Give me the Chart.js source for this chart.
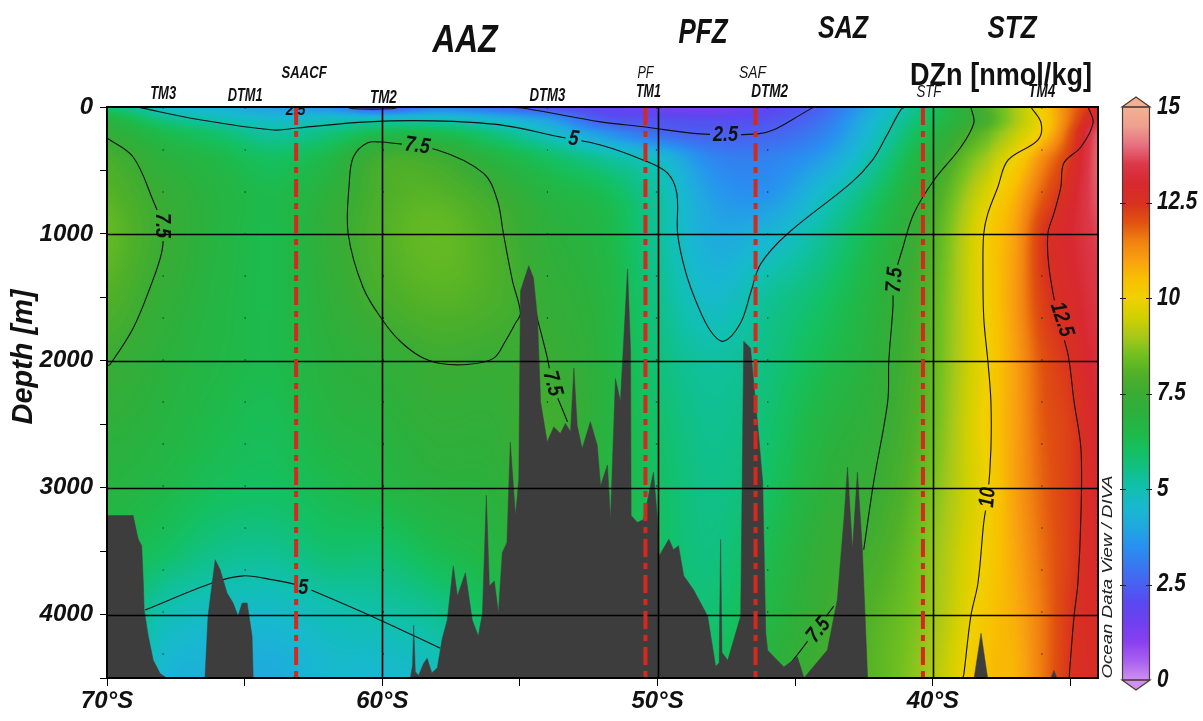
<!DOCTYPE html>
<html>
<head>
<meta charset="utf-8">
<title>DZn section</title>
<script src="https://cdn.jsdelivr.net/npm/chart.js@4.4.1/dist/chart.umd.min.js"></script>
<style>
html,body{margin:0;padding:0;background:#fff;overflow:hidden;}
canvas{display:block;}
</style>
</head>
<body>
<canvas id="c" width="1203" height="721" style="width:1203px;height:721px"></canvas>
<script>
// ================= DATA =================
// Gridded DZn field (nmol/kg): columns = latitude (°S), rows = depth (m)
const gridLats   = [70, 68, 66, 64, 62, 60, 58, 56, 54, 52, 50, 48, 46, 44, 42, 40, 38, 37, 36, 35, 34];
const gridDepths = [0, 100, 200, 400, 700, 1000, 1500, 2000, 2500, 3000, 3500, 4000, 4500];
const dzn0    = [5.8,4.7,4.3,3.8,3.5,2.3,3.2,2.8,2.2,1.9,1.5,1.3,1.9,2.6,4.3,6.0,7.9,9.0,10.2,11.6,12.6];
const dzn100  = [6.8,5.6,5.0,4.6,4.8,4.9,4.9,4.5,3.8,2.4,2.2,2.1,2.2,2.9,4.6,6.2,7.8,9.0,10.1,11.7,13.2];
const dzn200  = [7.2,6.4,5.8,5.2,5.6,6.3,6.3,5.6,4.7,3.6,2.7,2.45,2.55,3.2,4.8,6.6,8.3,9.3,10.3,12.0,13.8];
const dzn400  = [7.8,7.0,6.5,6.0,6.5,7.7,7.6,6.8,6.0,5.3,4.6,3.3,3.2,3.8,5.3,7.2,9.0,10.0,11.3,12.4,13.9];
const dzn700  = [8.1,7.4,6.8,6.4,7.0,7.9,8.1,7.6,6.8,6.3,5.2,3.8,3.6,4.7,6.0,7.7,9.7,10.7,11.9,12.8,13.8];
const dzn1000 = [8.3,7.5,6.8,6.4,7.2,8.0,8.3,7.9,7.1,6.6,5.3,4.1,4.4,5.3,6.5,8.0,10.05,11.0,12.4,13.0,13.6];
const dzn1500 = [8.0,7.3,6.7,6.4,7.1,7.8,8.1,7.9,7.3,6.8,5.5,4.6,5.3,5.9,6.9,8.2,10.05,11.1,12.3,12.8,13.4];
const dzn2000 = [7.5,7.0,6.6,6.4,6.9,7.2,7.55,7.45,7.5,6.9,5.7,5.2,5.6,6.3,7.1,8.3,10.0,11.0,12.0,12.5,13.2];
const dzn2500 = [7.1,6.8,6.4,6.2,6.7,6.9,7.2,7.2,7.7,6.9,5.9,5.4,5.8,6.7,7.3,8.4,10.1,11.0,11.9,12.3,13.0];
const dzn3000 = [6.8,6.5,6.1,6.0,6.3,6.6,6.9,7.0,7.6,6.8,6.0,5.5,6.0,7.0,7.5,8.6,10.0,11.0,11.8,12.3,12.9];
const dzn3500 = [6.5,6.0,5.5,5.4,5.8,5.8,6.3,6.7,7.4,6.6,6.0,5.6,6.3,7.3,7.8,8.8,10.1,10.9,11.7,12.3,12.9];
const dzn4000 = [6.2,5.0,4.7,4.6,4.9,5.1,5.4,6.2,7.2,6.4,6.0,5.8,6.6,7.5,8.1,8.9,10.3,10.8,11.6,12.4,12.8];
const dzn4500 = [6.0,4.5,4.2,4.1,4.5,4.5,4.8,5.8,7.0,6.2,6.0,6.0,6.9,7.7,8.2,9.1,10.5,10.7,11.6,12.45,12.7];
const dznRows = [dzn0,dzn100,dzn200,dzn400,dzn700,dzn1000,dzn1500,dzn2000,dzn2500,dzn3000,dzn3500,dzn4000,dzn4500];

// Seafloor profile [lat °S, depth m]
const seafloor = [
 [70,3220],[69.05,3220],[68.92,3354],[68.86,3409],[68.74,3457],[68.68,3750],[68.65,3965],[68.5,4170],[68.32,4361],[68.07,4465],[67.83,4500],
 [66.44,4500],[66.33,4012],[66.07,3568],[65.89,3647],[65.64,3830],[65.42,3909],[65.24,4012],[65.09,3909],[64.91,3909],[64.73,4171],[64.69,4500],
 [58.98,4500],[58.9,4400],[58.86,4083],[58.8,4450],[58.68,4480],[58.5,4385],[58.37,4345],[58.2,4460],[58.0,4420],[57.82,4187],[57.64,4044],
 [57.42,3616],[57.27,3854],[56.98,3671],[56.73,4044],[56.51,4171],[56.36,3988],[56.22,3060],[56.11,3774],[55.93,3735],[55.78,3988],[55.64,3512],
 [55.47,3433],[55.35,2640],[55.16,3220],[55.04,2930],[54.98,1450],[54.68,1251],[54.51,1346],[54.36,1664],[54.25,2322],[54.01,2640],[53.77,2521],
 [53.53,2574],[53.35,2494],[53.16,2560],[53.04,2058],[52.92,2508],[52.74,2693],[52.44,2481],[52.19,2668],[52.07,2985],[51.82,2822],[51.71,3251],
 [51.53,2140],[51.35,2322],[51.09,1275],[50.98,1926],[50.96,3220],[50.73,3274],[50.51,3251],[50.15,2878],[50.01,3224],[49.95,3541],[49.59,3407],
 [49.42,3489],[49.24,3457],[49.05,3695],[48.69,3806],[48.18,4012],[47.89,4409],[47.76,4380],[47.71,3409],[47.66,4300],[47.45,4361],[46.98,4012],
 [46.87,1846],[46.62,1902],[46.33,2584],[46.18,2957],[46.07,4147],[46.0,4282],[45.77,4334],[45.41,4413],[44.92,4334],[44.68,4500],[43.83,4280],
 [43.47,3883],[43.22,3221],[43.1,2838],[42.92,3486],[42.74,2878],[42.56,3486],[42.37,4500],[38.5,4500],[38.25,4147],[38.01,4500],[35.71,4500],
 [35.6,4440],[35.49,4500],[34,4500]
];

// Contour lines read from the section [lat °S, depth m]
const contour5Upper = [[68.8,5],[66.62,101],[63.96,181],[63.09,165],[60.55,117],[58.15,109],[55.71,141],[53.53,236],[52.07,299],[50.51,419],[49.64,521],[49.3,680],[49.27,1000],[48.98,1300],[48.55,1560],[48.07,1767],[47.6,1846],[46.98,1700],[46.6,1450],[46.25,1235],[45.27,997],[42.98,600],[42.2,420],[41.7,235],[41.16,21],[41.0,0]];
const contour5Lower = [[68.62,3965],[66.15,3750],[65.05,3695],[63.96,3727],[63.09,3767],[62.5,3815],[60.07,4044],[57.89,4266]];
const contour25Upper = [[55.4,0],[54.73,14],[52.07,117],[50.51,156],[48.44,212],[46.36,212],[45.78,180],[44.8,60],[44.33,0]];
const contour25Surface = [[61.3,0],[61.05,14],[59.65,14],[59.4,0]];
const contour75Left = [[70,244],[69.05,394],[68.33,735],[68.0,934],[68.0,1132],[68.44,1426],[69.05,1743],[69.89,2029],[70,2040]];
const contour75Loop = [[59.96,276],[58.0,339],[56.33,521],[55.82,735],[55.6,997],[55.27,1370],[54.98,1624],[55.16,1703],[55.53,1846],[55.96,1981],[56.91,2029],[57.89,2021],[58.62,1966],[59.35,1846],[59.96,1688],[60.69,1426],[61.24,997],[61.2,601],[61.05,394],[60.55,283],[59.96,276]];
const contour75Mid = [[54.4,1640],[54.0,1981],[53.82,2180],[53.42,2402],[53.27,2481]];
const contour75Right = [[38.62,0],[38.51,125],[38.98,315],[39.96,577],[40.69,839],[41.09,1109],[41.42,1370],[41.45,1585],[41.6,2005],[41.64,2322],[42.15,2957],[42.51,3489]];
const contour75Deep = [[45.3,4420],[44.8,4282],[43.6,3933]];
const contour10 = [[36.44,0],[36.07,125],[36.18,259],[37.27,419],[37.64,632],[38.0,839],[38.15,997],[38.18,1267],[38.15,1664],[38.0,2005],[37.89,2322],[37.89,2695],[38.0,3060],[38.15,3275],[38.36,3751],[38.62,4012],[38.87,4465],[38.91,4500]];
const contour125 = [[34.36,0],[34.18,125],[34.62,315],[35.24,442],[35.35,632],[35.6,839],[35.82,997],[35.78,1267],[35.45,1664],[35.09,1950],[34.87,2322],[34.62,2695],[34.62,3219],[34.73,3751],[34.87,4012],[35.05,4500]];
const contourSets = [contour5Upper,contour5Lower,contour25Upper,contour25Surface,contour75Left,contour75Loop,contour75Mid,contour75Right,contour75Deep,contour10,contour125];

// Contour labels (text, lat, depth)
const contourLabelText  = ['5','5','2.5','2.5','7.5','7.5','7.5','7.5','7.5','10','12.5'];
const contourLabelLat   = [53.05,62.87,47.53,63.15,68.0,58.73,53.82,41.38,44.15,38.0,35.32];
const contourLabelDepth = [252,3790,220,28,934,307,2180,1364,4123,3078,1675];

// Stations, fronts, zones
const stationNames = ['TM3','DTM1','TM2','DTM3','TM1','DTM2','TM4'];
const stationLats  = [67.96,64.98,59.96,54.0,50.04,46.0,36.04];
const frontNames = ['SAACF','PF','SAF','STF'];
const frontLats  = [63.13,50.44,46.44,40.36];
const zoneNames = ['AAZ','PFZ','SAZ','STZ'];

// Axis ticks
const xTickValues = [70,65,60,55,50,45,40,35];
const yTickValues = [0,500,1000,1500,2000,2500,3000,3500,4000,4500];
const colorbarTicks = [0,2.5,5,7.5,10,12.5,15];

// ================= STYLE HELPERS =================
const FONT = "'Liberation Sans Narrow','Liberation Sans',Arial,sans-serif";
const SY = 1.15;
const cmapStops = [
 [0,'#d090f0'],[0.5,'#a860f0'],[1,'#8840f0'],[1.5,'#7040f0'],[2,'#5a48f0'],[2.5,'#4a60f0'],
 [3,'#3878f0'],[3.5,'#2890f0'],[4,'#20a8e0'],[4.5,'#18b8d0'],[5,'#10c0b0'],[5.5,'#10c088'],
 [6,'#14c060'],[6.5,'#20b848'],[7,'#2cb03c'],[7.5,'#3aac34'],[8,'#50b028'],[8.5,'#70c020'],
 [9,'#a8c818'],[9.5,'#d0d000'],[10,'#f0d000'],[10.5,'#f8c000'],[11,'#f8a010'],[11.5,'#f08010'],
 [12,'#e05010'],[12.5,'#d83020'],[13,'#d82830'],[13.5,'#dc3848'],[14,'#e67080'],[14.5,'#eea090'],[15,'#f4b090']
];
function hexRgb(h){return [parseInt(h.slice(1,3),16),parseInt(h.slice(3,5),16),parseInt(h.slice(5,7),16)];}
const LUT = [];
(function(){
  const st = cmapStops.map(s=>[s[0],hexRgb(s[1])]);
  for (let i=0;i<=1500;i++){
    const v=i/100; let k=0;
    while (k<st.length-2 && v>st[k+1][0]) k++;
    const a=st[k], b=st[k+1]; const t=Math.max(0,Math.min(1,(v-a[0])/(b[0]-a[0])));
    LUT.push([0,1,2].map(c=>Math.round(a[1][c]+(b[1][c]-a[1][c])*t)));
  }
})();
function rgbOf(v){const i=Math.max(0,Math.min(1500,Math.round(v*100)));return LUT[i];}
function cssOf(v){const c=rgbOf(v);return `rgb(${c[0]},${c[1]},${c[2]})`;}

function locate(arr, v){
  const n=arr.length;
  for (let i=0;i<n-1;i++){
    const a=arr[i], b=arr[i+1];
    if ((v-a)*(v-b)<=0){ return [i,(v-a)/(b-a)]; }
  }
  const asc = arr[n-1]>arr[0];
  if ((asc && v<arr[0]) || (!asc && v>arr[0])) return [0,0];
  return [n-2,1];
}
function cr(p0,p1,p2,p3,t){
  return 0.5*((2*p1)+(-p0+p2)*t+(2*p0-5*p1+4*p2-p3)*t*t+(-p0+3*p1-3*p2+p3)*t*t*t);
}

function drawText(ctx, s, x, y, o){
  ctx.save();
  ctx.font = `${o.italic?'italic ':''}${o.weight||'bold'} ${o.size}px ${o.family||FONT}`;
  ctx.fillStyle = o.color || '#111';
  ctx.textBaseline = o.baseline || 'alphabetic';
  ctx.textAlign = 'left';
  const w = ctx.measureText(s).width;
  const sx = o.fitW ? o.fitW / w : (o.sx || 1);
  ctx.translate(x, y);
  if (o.angle) ctx.rotate(o.angle*Math.PI/180);
  ctx.scale(sx, o.sy || SY);
  const al = o.align || 'center';
  const dx = al==='center' ? -w/2 : (al==='right' ? -w : 0);
  ctx.fillText(s, dx, 0);
  ctx.restore();
  return w*sx;
}

// ================= PLUGINS =================
const fieldPlugin = {
  id: 'field',
  beforeDatasetsDraw(chart){
    const {ctx, chartArea:a, scales:{x,y}} = chart;
    const L=Math.round(a.left), T=Math.round(a.top), W=Math.round(a.right)-L, H=Math.round(a.bottom)-T;
    const off=document.createElement('canvas'); off.width=W; off.height=H;
    const octx=off.getContext('2d'); const img=octx.createImageData(W,H); const d=img.data;
    const nC=gridLats.length, nR=gridDepths.length;
    const ci=new Int32Array(W), ct=new Float32Array(W);
    for (let px=0;px<W;px++){ const r=locate(gridLats, x.getValueForPixel(L+px+0.5)); ci[px]=r[0]; ct[px]=r[1]; }
    const row=new Float32Array(nC);
    const g=(j,k)=>dznRows[Math.max(0,Math.min(nR-1,j))][k];
    for (let py=0;py<H;py++){
      const [j,t]=locate(gridDepths, y.getValueForPixel(T+py+0.5));
      for (let k=0;k<nC;k++) row[k]=cr(g(j-1,k),g(j,k),g(j+1,k),g(j+2,k),t);
      const rv=(k)=>row[Math.max(0,Math.min(nC-1,k))];
      for (let px=0;px<W;px++){
        const i=ci[px];
        const v=cr(rv(i-1),rv(i),rv(i+1),rv(i+2),ct[px]);
        const c=rgbOf(v); const o=(py*W+px)*4;
        d[o]=c[0]; d[o+1]=c[1]; d[o+2]=c[2]; d[o+3]=255;
      }
    }
    octx.putImageData(img,0,0);
    ctx.drawImage(off,L,T);
    chart.$field={off,L,T,W,H};
    chart.$cCount=0;
  }
};

function drawContourLabels(chart){
  const {ctx, chartArea:a, scales:{x,y}} = chart; const f=chart.$field;
  ctx.save();
  ctx.beginPath(); ctx.rect(a.left,a.top,a.right-a.left,a.bottom-a.top); ctx.clip();
  const angles=[8,0,0,0,90,8,75,-85,-50,-85,72];
  const sizes=[19,19,19,15,19,19,19,19,19,19,19];
  contourLabelText.forEach((s,i)=>{
    const px=x.getPixelForValue(contourLabelLat[i]), py=y.getPixelForValue(contourLabelDepth[i]);
    ctx.save();
    ctx.font=`italic bold ${sizes[i]}px ${FONT}`;
    const w=ctx.measureText(s).width*0.95, h=sizes[i]*0.95;
    ctx.translate(px,py); ctx.rotate(angles[i]*Math.PI/180);
    ctx.beginPath(); ctx.rect(-w/2-3,-h/2,w+6,h);
    ctx.rotate(-angles[i]*Math.PI/180); ctx.translate(-px,-py);
    ctx.clip();
    ctx.drawImage(f.off,f.L,f.T);
    ctx.restore();
    drawText(ctx,s,px,py,{size:sizes[i],italic:true,baseline:'middle',angle:angles[i],sx:0.95,color:'#111'});
  });
  ctx.restore();
}

function drawGrid(chart){
  const {ctx, chartArea:a, scales:{x,y}} = chart;
  ctx.save(); ctx.strokeStyle='#000'; ctx.lineWidth=1.6;
  y.ticks.forEach(t=>{ if (t.value%1000===0 && t.value>0 && t.value<4500){ const p=Math.round(y.getPixelForValue(t.value))+0.5; ctx.beginPath(); ctx.moveTo(a.left,p); ctx.lineTo(a.right,p); ctx.stroke(); }});
  x.ticks.forEach(t=>{ if (t.value%10===0 && t.value<70 && t.value>34){ const p=Math.round(x.getPixelForValue(t.value))+0.5; ctx.beginPath(); ctx.moveTo(p,a.top); ctx.lineTo(p,a.bottom); ctx.stroke(); }});
  ctx.restore();
}

const overlayPlugin = {
  id: 'overlay',
  afterDatasetDraw(chart,args){
    const ds=chart.data.datasets[args.index];
    if (ds.role==='contour'){ chart.$cCount=(chart.$cCount||0)+1; if (chart.$cCount===contourSets.length) drawContourLabels(chart); }
    if (ds.role==='bathy') drawGrid(chart);
  },
  afterDraw(chart){
    const {ctx, chartArea:a, scales:{x,y}} = chart;
    // frame
    ctx.save(); ctx.strokeStyle='#000'; ctx.lineWidth=2;
    ctx.strokeRect(a.left,a.top,a.right-a.left,a.bottom-a.top); ctx.restore();
    // zone titles
    drawText(ctx,zoneNames[0],465,52,{size:34,italic:true,fitW:65});
    drawText(ctx,zoneNames[1],703,43,{size:31,italic:true,fitW:49});
    drawText(ctx,zoneNames[2],843,38,{size:28,italic:true,fitW:50});
    drawText(ctx,zoneNames[3],1012,38,{size:28,italic:true,fitW:49});
    drawText(ctx,'DZn [nmol/kg]',910,85,{size:28,align:'left',fitW:182});
    // stations
    const stW=[26,35,27,36,25,37,27], stB=[99,101,103,101,97,97,97], stDx=[0,0,0,0,-8,2,0];
    stationNames.forEach((s,i)=>drawText(ctx,s,x.getPixelForValue(stationLats[i])+stDx[i],stB[i],{size:16,italic:true,fitW:stW[i]}));
    // fronts
    const frW=[45,16,27,25], frB=[78,78,78,97], frDx=[8,0,-3,6], frWt=['bold','normal','normal','normal'];
    frontNames.forEach((s,i)=>drawText(ctx,s,x.getPixelForValue(frontLats[i])+frDx[i],frB[i],{size:15,italic:true,weight:frWt[i],fitW:frW[i]}));
    // y title
    drawText(ctx,'Depth [m]',24,357,{size:25,italic:true,angle:-90,baseline:'middle',fitW:135});
    // ODV credit
    drawText(ctx,'Ocean Data View / DIVA',1108,577,{size:13,italic:true,weight:'normal',angle:-90,baseline:'middle',fitW:203,family:"'Liberation Sans',Arial,sans-serif",color:'#222'});
    // colorbar
    const cx0=1122, cx1=1150, cTop=107, cBot=680;
    const cbY=v=>cBot-(v/15)*(cBot-cTop);
    for (let yy=cTop; yy<cBot; yy++){ ctx.fillStyle=cssOf((cBot-yy-0.5)/(cBot-cTop)*15); ctx.fillRect(cx0,yy,cx1-cx0,1); }
    ctx.save(); ctx.strokeStyle='#4a3a3a'; ctx.lineWidth=1.2;
    ctx.beginPath(); ctx.moveTo(cx0,cTop); ctx.lineTo((cx0+cx1)/2,cTop-10); ctx.lineTo(cx1,cTop); ctx.closePath(); ctx.fillStyle=cssOf(15); ctx.fill(); ctx.stroke();
    ctx.beginPath(); ctx.moveTo(cx0,cBot); ctx.lineTo((cx0+cx1)/2,cBot+10); ctx.lineTo(cx1,cBot); ctx.closePath(); ctx.fillStyle=cssOf(0); ctx.fill(); ctx.stroke();
    ctx.strokeRect(cx0+0.5,cTop,cx1-cx0-1,cBot-cTop);
    ctx.strokeStyle='#222';
    colorbarTicks.forEach(v=>{ if (v>0 && v<15){ const p=Math.round(cbY(v))+0.5; ctx.beginPath(); ctx.moveTo(cx0-2,p); ctx.lineTo(cx0+4,p); ctx.moveTo(cx1-4,p); ctx.lineTo(cx1+2,p); ctx.stroke(); }});
    ctx.restore();
    colorbarTicks.forEach(v=>drawText(ctx,String(v),1157,cbY(v),{size:22,italic:true,baseline:'middle',align:'left',sx:0.94}));
  }
};

// ================= CHART =================
const pts = arr => arr.map(p=>({x:p[0], y:p[1]}));
const datasets = [];
contourSets.forEach((c,i)=>datasets.push({role:'contour',data:pts(c),borderColor:'#111',borderWidth:1.1,pointRadius:0,tension:0.35,fill:false,order:100+i}));
stationLats.forEach(l=>datasets.push({role:'station',data:[{x:l,y:0},{x:l,y:4500}],borderColor:'rgba(0,0,0,0.45)',borderWidth:1.2,borderDash:[2,40],pointRadius:0,fill:false,order:60}));
datasets.push({role:'bathy',data:pts(seafloor),borderColor:'#3d3d3d',backgroundColor:'#3d3d3d',borderWidth:0.5,pointRadius:0,tension:0,fill:{value:4500},order:50});
frontLats.forEach(l=>datasets.push({role:'front',data:[{x:l,y:0},{x:l,y:4500}],borderColor:'#d22a1e',borderWidth:4,borderDash:[18,6,6,6],borderCapStyle:'butt',pointRadius:0,fill:false,order:10}));

const tickFont = {family:FONT, size:24, weight:'bold', style:'italic'};
new Chart(document.getElementById('c').getContext('2d'), {
  type:'line',
  data:{datasets},
  options:{
    responsive:false, animation:false, devicePixelRatio:1, events:[],
    layout:{padding:{left:0,right:105,top:107,bottom:0}},
    plugins:{legend:{display:false},tooltip:{enabled:false}},
    scales:{
      x:{type:'linear',min:34,max:70,reverse:true,
         afterBuildTicks:s=>{s.ticks=xTickValues.map(v=>({value:v}));},
         afterFit:s=>{s.height=43;},
         grid:{display:true,drawOnChartArea:false,drawTicks:true,tickLength:8,color:'#000',lineWidth:1},
         border:{display:true,color:'#000',width:2},
         ticks:{autoSkip:false,maxRotation:0,padding:1,color:'#111',font:tickFont,callback:v=>(v%10===0?v+'°S':'')}},
      y:{type:'linear',min:0,max:4500,reverse:true,
         afterBuildTicks:s=>{s.ticks=yTickValues.map(v=>({value:v}));},
         afterFit:s=>{s.width=107;},
         grid:{display:true,drawOnChartArea:false,drawTicks:true,tickLength:7,color:'#000',lineWidth:1},
         border:{display:true,color:'#000',width:2},
         ticks:{autoSkip:false,padding:7,color:'#111',font:tickFont,callback:v=>(v%1000===0?String(v):'')}}
    }
  },
  plugins:[fieldPlugin, overlayPlugin]
});
</script>
</body>
</html>
